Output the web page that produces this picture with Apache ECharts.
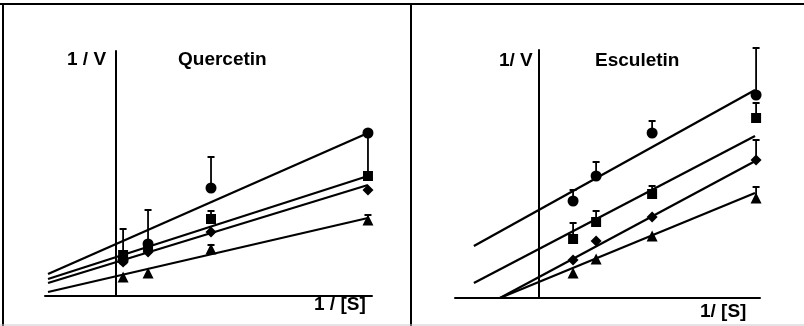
<!DOCTYPE html>
<html><head><meta charset="utf-8">
<script src="https://cdn.jsdelivr.net/npm/echarts@6/dist/echarts.min.js"></script>
<style>html,body{margin:0;padding:0;background:#fff}#c{width:804px;height:326px}</style>
</head><body><div id="c"></div>
<script>
// ---- Quercetin (left panel) ----
const qX = [0.28, 1.27, 3.77, 10.0];
const qCircle = [1.8, 2.6, 5.4, 8.15];
const qCircleErr = [3.35, 4.3, 6.95, null];
const qSquare = [2.05, 2.45, 3.85, 6.0];
const qSquareErr = [null, null, 4.25, 8.05];
const qDiamond = [1.7, 2.2, 3.2, 5.3];
const qDiamondErr = [null, null, null, null];
const qTriangle = [0.95, 1.15, 2.35, 3.8];
const qTriangleErr = [null, null, 2.55, 4.05];
// regression lines: [x0, y0, x1, y1]
const qLineCircle = [-2.7, 1.1, 10.0, 8.15];
const qLineSquare = [-2.7, 0.85, 10.0, 6.0];
const qLineDiamond = [-2.7, 0.65, 10.0, 5.55];
const qLineTriangle = [-2.7, 0.2, 10.0, 3.9];

// ---- Esculetin (right panel) ----
const eX = [1.57, 2.63, 5.21, 10.0];
const eCircle = [4.85, 6.1, 8.25, 10.15];
const eCircleErr = [5.4, 6.8, 8.85, 12.5];
const eSquare = [2.95, 3.8, 5.2, 9.0];
const eSquareErr = [3.75, 4.35, 5.6, 9.75];
const eDiamond = [1.9, 2.85, 4.05, 6.9];
const eDiamondErr = [null, null, null, 7.9];
const eTriangle = [1.25, 1.95, 3.1, 5.0];
const eTriangleErr = [null, null, null, 5.55];
const eLineCircle = [-3.0, 2.6, 9.95, 10.4];
const eLineSquare = [-3.0, 0.75, 9.95, 8.1];
const eLineDiamond = [-1.8, 0.0, 10.05, 6.9];
const eLineTriangle = [-1.8, 0.0, 9.95, 5.25];

const titles = {left: 'Quercetin', right: 'Esculetin'};
const yLabels = {left: '1 / V', right: '1/ V'};
const xLabels = {left: '1 / [S]', right: '1/ [S]'};

const chart = echarts.init(document.getElementById('c'), null, {renderer: 'canvas'});
const FONT = 'Liberation Sans, Arial, sans-serif';

function pts(xs, ys) { return xs.map((x, i) => [x, ys[i]]); }
function errs(xs, ys, tops) {
  const out = [];
  xs.forEach((x, i) => { if (tops[i] != null) out.push([x, ys[i], tops[i]]); });
  return out;
}
function lineSeries(l, idx) {
  return {type: 'line', xAxisIndex: idx, yAxisIndex: idx, data: [[l[0], l[1]], [l[2], l[3]]],
    symbol: 'none', lineStyle: {color: '#000', width: 2.3}, silent: true, z: 2};
}
function scatterSeries(xs, ys, sym, size, idx) {
  return {type: 'scatter', xAxisIndex: idx, yAxisIndex: idx, data: pts(xs, ys), symbol: sym,
    symbolSize: size, itemStyle: {color: '#000', opacity: 1}, z: 4};
}
function errSeries(xs, ys, tops, idx) {
  return {type: 'custom', xAxisIndex: idx, yAxisIndex: idx, data: errs(xs, ys, tops), z: 3,
    renderItem: function (params, api) {
      const p0 = api.coord([api.value(0), api.value(1)]);
      const p1 = api.coord([api.value(0), api.value(2)]);
      return {type: 'group', children: [
        {type: 'line', shape: {x1: p0[0], y1: p0[1], x2: p1[0], y2: p1[1]}, style: {stroke: '#000', lineWidth: 1.8}},
        {type: 'line', shape: {x1: p1[0] - 3.5, y1: p1[1], x2: p1[0] + 3.5, y2: p1[1]}, style: {stroke: '#000', lineWidth: 2}}
      ]};
    }};
}

const series = [];
[qLineCircle, qLineSquare, qLineDiamond, qLineTriangle].forEach(l => series.push(lineSeries(l, 0)));
[eLineCircle, eLineSquare, eLineDiamond, eLineTriangle].forEach(l => series.push(lineSeries(l, 1)));
series.push(errSeries(qX, qCircle, qCircleErr, 0), errSeries(qX, qSquare, qSquareErr, 0),
  errSeries(qX, qDiamond, qDiamondErr, 0), errSeries(qX, qTriangle, qTriangleErr, 0));
series.push(errSeries(eX, eCircle, eCircleErr, 1), errSeries(eX, eSquare, eSquareErr, 1),
  errSeries(eX, eDiamond, eDiamondErr, 1), errSeries(eX, eTriangle, eTriangleErr, 1));
series.push(scatterSeries(qX, qCircle, 'circle', 11, 0), scatterSeries(qX, qSquare, 'rect', 10, 0),
  scatterSeries(qX, qDiamond, 'diamond', 11, 0), scatterSeries(qX, qTriangle, 'triangle', 11, 0));
series.push(scatterSeries(eX, eCircle, 'circle', 11, 1), scatterSeries(eX, eSquare, 'rect', 10, 1),
  scatterSeries(eX, eDiamond, 'diamond', 11, 1), scatterSeries(eX, eTriangle, 'triangle', 11, 1));

const axLine = {show: true, onZero: true, lineStyle: {color: '#000', width: 2}};
function xAx(idx, min, max) {
  return {type: 'value', gridIndex: idx, min: min, max: max, axisLine: axLine,
    axisTick: {show: false}, axisLabel: {show: false}, splitLine: {show: false}};
}
function yAx(idx, max) {
  return {type: 'value', gridIndex: idx, min: 0, max: max, axisLine: axLine,
    axisTick: {show: false}, axisLabel: {show: false}, splitLine: {show: false}};
}
function txt(s, x, y) {
  return {type: 'text', left: x, top: y, style: {text: s, font: 'bold 19px ' + FONT, fill: '#000'}};
}

chart.setOption({
  animation: false,
  grid: [
    {left: 45, top: 51, width: 327, height: 245},
    {left: 455, top: 50, width: 305, height: 248}
  ],
  xAxis: [xAx(0, -2.82, 10.16), xAx(1, -3.87, 10.18)],
  yAxis: [yAx(0, 12.25), yAx(1, 12.4)],
  series: series,
  graphic: [
    {type: 'line', shape: {x1: 0, y1: 4, x2: 804, y2: 4}, style: {stroke: '#000', lineWidth: 2}},
    {type: 'line', shape: {x1: 3, y1: 4, x2: 3, y2: 326}, style: {stroke: '#000', lineWidth: 2}},
    {type: 'line', shape: {x1: 411, y1: 4, x2: 411, y2: 326}, style: {stroke: '#000', lineWidth: 2}},
    {type: 'line', shape: {x1: 0, y1: 325, x2: 804, y2: 325}, style: {stroke: '#c8c8c8', lineWidth: 1}},
    txt(yLabels.left, 67, 50), txt(titles.left, 178, 50), txt(xLabels.left, 314, 295),
    txt(yLabels.right, 499, 51), txt(titles.right, 595, 51), txt(xLabels.right, 700, 302)
  ]
});
</script></body></html>
